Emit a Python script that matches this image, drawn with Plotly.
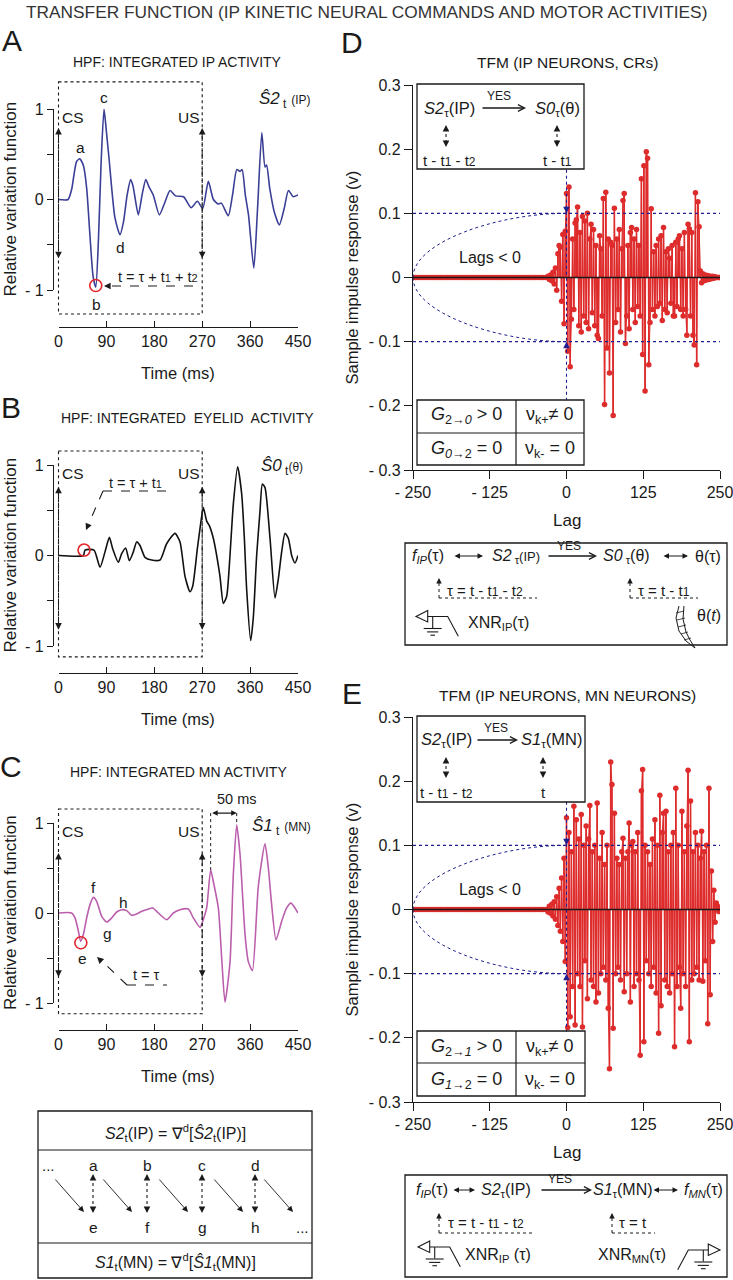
import plotly.graph_objects as go

W, H = 733, 1280
FONT = "Liberation Sans, Arial, sans-serif"
INK = "#1a1a1a"
IP_COLOR = "#3b3f96"
EYELID_COLOR = "#111111"
MN_COLOR = "#bb5fac"
STEM_RED = "#de2b2b"
GUIDE_BLUE = "#1f1f8f"
CIRCLE_RED = "#e3262b"

# ---------------- data ----------------
TIME_TICKS = [0, 90, 180, 270, 360, 450]
CS_TIME, US_TIME = 0, 270

A_T = [0, 18, 25, 29, 34, 40, 47, 53, 59, 65, 70, 75, 80, 85.5, 90, 95, 106, 115.5, 122, 129,
       135.5, 140, 150, 157, 164, 170, 178, 189.5, 200, 209.5, 220, 235, 249, 261, 271, 281.5, 291, 300, 306, 319,
       327, 335, 341, 345, 351, 357, 367, 374, 382, 388, 391, 397, 406, 415, 424, 432, 441, 450]
A_V = [0, 0, 0.12, 0.27, 0.42, 0.45, 0.37, 0.12, -0.39, -0.85, -0.97, -0.45, 0.4, 1.0, 0.75, 0.45, -0.2, -0.39, -0.25, 0.05,
       0.22, 0.15, -0.17, 0.05, 0.22, 0.14, 0.05, -0.17, -0.03, 0.1, 0.04, 0.03, -0.09, -0.02, -0.1, 0.2, 0.0, -0.05, -0.04, -0.18,
       0.05, 0.33, 0.31, 0.33, 0.05, -0.17, -0.76, -0.1, 0.74, 0.36, 0.38, 0.12, -0.15, -0.28, -0.1, 0.1, 0.03, 0.05]

B_T = [0, 46.7, 49.8, 66.7, 78, 87.4, 95.5, 101.8, 112.4, 118.7, 126.2, 133.1, 140.6, 146.9, 153.1, 162.5, 175, 190.7,
       203.2, 218.9, 228.3, 237.7, 247.1, 252.1, 260.9, 265.9, 272.1, 278.4, 283.4, 290.9, 297.2, 303.4, 309.7, 316,
       322.2, 328.5, 336.6, 344.2, 349.2, 353.6, 361.1, 366.1, 372.3, 378.6, 383, 388, 397.4, 406.8, 413, 419.3,
       425.6, 431.8, 438.1, 444.4, 450]
B_V = [0, 0, 0.06, 0.06, -0.13, 0.04, 0.2, 0.075, -0.075, 0.02, 0.083, -0.057, 0.04, 0.15, 0.11, -0.02, -0.05, -0.05,
       0.13, 0.245, 0.15, -0.23, -0.4, -0.34, 0.075, 0.3, 0.53, 0.38, 0.33, 0.19, 0, -0.23, -0.53, -0.45,
       0, 0.57, 0.98, 0.68, 0.19, -0.38, -0.94, -0.68, 0, 0.49, 0.79, 0.75, 0.19, -0.47, -0.26, 0.04,
       0.245, 0.19, 0, -0.083, 0]

C_T = [0, 24.7, 31, 37.3, 41.6, 46.7, 52.9, 59.2, 65.4, 71.7, 81.1, 90.5, 99.9, 109.3, 118.7, 128.1, 137.5, 146.9,
       156.3, 165.7, 177, 187.6, 203.2, 215.8, 228.3, 244, 253.4, 265.9, 270.9, 278.4, 285.9, 290.9, 300.3, 306.6,
       312.8, 322.2, 328.5, 334.8, 341.1, 350.5, 356.7, 364.3, 375.5, 388, 394.3, 400.5, 408.7, 419.3, 428.7, 436.8,
       444.4, 450]
C_V = [0, 0, -0.055, -0.2, -0.315, -0.24, -0.055, 0.093, 0.174, 0.13, -0.037, -0.1, -0.055, 0.011, 0.037, 0.026,
       -0.026, -0.011, 0.019, 0.037, 0.056, 0, -0.074, 0, 0.037, 0.044, -0.055, -0.16, -0.093, 0.056, 0.48, 0.35,
       0.056, -0.5, -0.99, -0.55, 0.43, 0.98, 0.65, -0.24, -0.54, -0.64, 0.3, 0.77, 0.5, 0.093, -0.3, -0.093,
       0.056, 0.11, 0.056, 0]

# marked points (red circles): b in A, onset in B, e in C
A_MARK = (70, -0.95)
B_MARK = (48, 0.06)
C_MARK = (42, -0.33)
C_PEAKS = [(285.9, 0.48), (334.8, 0.98)]  # the two MN peaks 50 ms apart

LAG_TICKS = [-250, -125, 0, 125, 250]
LAG_TICK_TEXT = ["- 250", "- 125", "0", "125", "250"]
IMP_TICKS = [0.3, 0.2, 0.1, 0, -0.1, -0.2, -0.3]
IMP_TICK_TEXT = ["0.3", "0.2", "0.1", "0", "- 0.1", "- 0.2", "- 0.3"]
SIG_LEVEL = 0.1

FAR_LAGS = list(range(-250, -31, 4))
NEAR_NEG_LAGS = list(range(-30, 0, 2))
POS_LAGS = list(range(0, 251, 2))

D_FAR = [0.0] * len(FAR_LAGS)
D_NEAR_NEG = [0.002, -0.003, 0.004, -0.005, 0.008, -0.01, 0.015, -0.02, 0.037, 0.05, 0.047, -0.037, 0.067, -0.072, 0.072]
D_POS = [
    0.131, -0.115, 0.141, -0.139, -0.065, 0.06, -0.05, 0.085, 0.09, 0.11,
    -0.075, 0.07, -0.085, 0.095, -0.06, 0.088, -0.07, 0.1, -0.08, 0.06,
    0.083, -0.055, 0.075, -0.075, 0.05, -0.09, -0.095, 0.065, 0.045, -0.06,
    0.123, -0.198, 0.133, -0.11, 0.06, -0.149, 0.055, 0.05, -0.215, 0.108,
    -0.07, 0.06, -0.05, 0.075, -0.085, 0.045, 0.12, 0.131, -0.103, -0.06,
    0.05, -0.08, 0.07, 0.078, -0.05, 0.06, -0.07, 0.075, -0.045, 0.05,
    -0.06, 0.154, -0.12, 0.174, -0.177, 0.196, 0.186, -0.136, -0.07, 0.107,
    -0.05, 0.04, -0.06, 0.05, -0.045, 0.06, -0.04, 0.065, -0.067, 0.078,
    -0.05, 0.04, -0.055, 0.045, 0.03, -0.04, 0.05, -0.06, -0.06, 0.055,
    -0.045, 0.06, 0.065, -0.05, 0.045, -0.06, 0.07, -0.05, -0.09, 0.083,
    0.076, -0.06, 0.07, -0.09, -0.105, 0.132, -0.136, 0.118, 0.079,
    0.01, -0.008, 0.006, -0.005, 0.004, -0.004, 0.003, -0.003, 0.002, -0.002, 0.002, -0.001, 0.001, 0.0, 0.0, 0.0, 0.0,
]

E_FAR = [0.0] * len(FAR_LAGS)
E_NEAR_NEG = [-0.004, 0.005, -0.006, 0.008, -0.01, 0.012, -0.015, 0.02, -0.025, 0.033, -0.034, 0.049, -0.05, 0.08, -0.081]
E_POS = [
    0.143, -0.184, 0.12, -0.167, 0.09, -0.12, 0.161, -0.18, 0.14, -0.1,
    0.11, -0.12, 0.148, -0.183, 0.1, -0.08, 0.13, -0.139, 0.11, 0.162,
    -0.11, 0.09, -0.12, 0.1, -0.144, 0.166, -0.13, 0.08, -0.1, 0.12,
    -0.09, 0.07, -0.11, 0.1, -0.154, -0.248, 0.23, 0.195, -0.185, 0.15,
    -0.1, 0.08, -0.09, 0.07, -0.11, 0.09, 0.111, -0.128, 0.08, -0.1,
    0.09, 0.135, -0.144, 0.1, 0.106, -0.12, 0.09, -0.1, 0.12, -0.11,
    -0.227, 0.185, 0.218, -0.206, 0.1, -0.08, 0.09, -0.1, 0.07, -0.12,
    0.11, -0.09, 0.14, -0.13, 0.1, -0.193, 0.178, -0.15, 0.12, 0.15,
    -0.11, 0.153, -0.12, 0.09, -0.13, 0.1, -0.1, 0.12, -0.214, 0.189,
    -0.12, 0.1, -0.09, -0.154, 0.153, -0.1, 0.09, -0.12, 0.13, 0.217,
    -0.206, 0.169, -0.11, 0.09, -0.1, 0.12, -0.09, 0.1, -0.11, 0.08,
    0.122, -0.112, 0.09, -0.08, 0.1, -0.178, 0.189, -0.133, 0.06, -0.05,
    0.03, -0.02, 0.01, 0.005, -0.003, 0.0,
]

# ---------------- geometry (pixels of the 733x1280 page) ----------------
T_PIX = (58.5, 298.0)
LEFT_PANELS = [
    dict(n="", top=109, bottom=290, xline=327, box=(1.3, -1.265), arrows=(0.79, -0.65)),
    dict(n="2", top=465, bottom=646, xline=673, box=(1.155, -1.12), arrows=(0.76, -0.82)),
    dict(n="3", top=823, bottom=1003, xline=1030, box=(1.155, -1.12), arrows=(0.667, -0.71)),
]
LAG_PIX = (413, 720)
RIGHT_PANELS = [dict(n="4", top=85, bottom=470), dict(n="5", top=717, bottom=1102)]

ann = []
shp = []


def xp(x):
    return x / W


def yp(y):
    return 1 - y / H


def tx(t):
    return T_PIX[0] + t / 450 * (T_PIX[1] - T_PIX[0])


def vy(p, v):
    return p["bottom"] + (v + 1) / 2 * (p["top"] - p["bottom"])


def sm(s, size=11):
    return f"<span style='font-size:{size}px'>{s}</span>"


def text(x, y, s, size=15, color=INK, angle=0, xanchor="center"):
    ann.append(dict(x=xp(x), y=yp(y), xref="paper", yref="paper", text=s, showarrow=False,
                    font=dict(family=FONT, size=size, color=color), textangle=angle,
                    xanchor=xanchor, yanchor="middle"))


def line(x0, y0, x1, y1, dash="solid", width=1.1, color=INK):
    shp.append(dict(type="line", xref="paper", yref="paper", x0=xp(x0), y0=yp(y0), x1=xp(x1), y1=yp(y1),
                    line=dict(color=color, width=width, dash=dash)))


def rect(x0, y0, x1, y1, dash="solid", width=1.3, color=INK):
    shp.append(dict(type="rect", xref="paper", yref="paper", x0=xp(x0), y0=yp(y0), x1=xp(x1), y1=yp(y1),
                    line=dict(color=color, width=width, dash=dash), fillcolor="rgba(0,0,0,0)"))


def path(points, closed=False, width=1.1, color=INK):
    d = "M " + " L ".join(f"{xp(x):.5f},{yp(y):.5f}" for x, y in points)
    if closed:
        d += " Z"
    shp.append(dict(type="path", xref="paper", yref="paper", path=d,
                    line=dict(color=color, width=width), fillcolor="rgba(0,0,0,0)"))


def head(x, y, dx, dy, length=7, color=INK, size=1.2, width=1.1):
    n = (dx * dx + dy * dy) ** 0.5
    ann.append(dict(x=xp(x), y=yp(y), xref="paper", yref="paper", showarrow=True, text="",
                    ax=-dx / n * length, ay=-dy / n * length, axref="pixel", ayref="pixel",
                    arrowhead=2, arrowsize=size, arrowwidth=width, arrowcolor=color, standoff=0))


def arrow(x0, y0, x1, y1, both=False, style=2, width=1.1, size=1.2, color=INK):
    d = dict(x=xp(x1), y=yp(y1), xref="paper", yref="paper", showarrow=True, text="",
             ax=x0 - x1, ay=y0 - y1, axref="pixel", ayref="pixel",
             arrowhead=style, arrowsize=size, arrowwidth=width, arrowcolor=color, standoff=0)
    if both:
        d.update(arrowside="end+start", startarrowhead=style, startarrowsize=size, startstandoff=0)
    ann.append(d)


def dotted_double(x, y0, y1):
    line(x, y0 + 3, x, y1 - 3, dash="dot", width=1.1)
    head(x, y0, 0, -1, length=6)
    head(x, y1, 0, 1, length=6)


def bracket(x, y, x_end, tip):
    line(x, y, x_end, y, dash="dot", width=1.0)
    line(x, y, x, tip + 4, dash="dot", width=1.0)
    head(x, tip, 0, -1, length=5, size=1.0)


def electrode(ax, ay, mirror=False):
    s = -1 if mirror else 1

    def P(dx, dy):
        return (ax + s * dx, ay + dy)
    path([P(11.7, -6), P(0, 0), P(11.7, 5.4)], closed=True)
    path([P(11.7, 0), P(31.7, 0), P(42.3, 19.7)])
    line(*P(16.7, 0), *P(16.7, 11.4))
    for half, dy in ((9, 12), (5.6, 15.4), (2.3, 18.7)):
        line(*P(16.7 - half, dy), *P(16.7 + half, dy))


def eyelid():
    path([(679, 606), (676, 618), (679, 631), (686, 641), (695, 648)], width=1.0)
    path([(684, 606), (683, 619), (686, 632), (690, 640), (695, 648)], width=1.0)
    for a, b in (((676, 613), (684, 611)), ((677, 620), (685, 618)), ((678, 627), (686, 625)),
                 ((681, 634), (688, 632)), ((684, 640), (691, 638))):
        line(*a, *b, width=0.8)


fig = go.Figure()

# ---------------- left panels: HPF curves ----------------
curves = [(A_T, A_V, IP_COLOR, A_MARK), (B_T, B_V, EYELID_COLOR, B_MARK), (C_T, C_V, MN_COLOR, C_MARK)]
axes = {}
for p, (t, v, color, mark) in zip(LEFT_PANELS, curves):
    n = p["n"]
    fig.add_trace(go.Scatter(x=t, y=v, mode="lines", xaxis="x" + n, yaxis="y" + n, hoverinfo="skip",
                             line=dict(color=color, width=1.6, shape="spline", smoothing=0.6)))
    fig.add_trace(go.Scatter(x=[mark[0]], y=[mark[1]], mode="markers", xaxis="x" + n, yaxis="y" + n,
                             cliponaxis=False, hoverinfo="skip",
                             marker=dict(symbol="circle-open", size=12, color=CIRCLE_RED, line=dict(width=1.6))))
    axes["xaxis" + n] = dict(domain=[xp(T_PIX[0]), xp(T_PIX[1])], range=[0, 450], anchor="free",
                             position=yp(p["xline"]), showline=True, linecolor=INK, linewidth=1.3,
                             ticks="inside", ticklen=6, tickwidth=1.3, tickcolor=INK, tickvals=TIME_TICKS,
                             tickfont=dict(size=16, family=FONT, color=INK), showgrid=False, zeroline=False,
                             automargin=False)
    axes["yaxis" + n] = dict(domain=[yp(p["bottom"]), yp(p["top"])], range=[-1, 1], anchor="free",
                             position=xp(53), showline=True, linecolor=INK, linewidth=1.3,
                             ticks="outside", ticklen=6, tickwidth=1.3, tickcolor=INK,
                             tickvals=[-1, -0.5, 0, 0.5, 1], ticktext=["- 1", "", "0", "", "1"],
                             tickfont=dict(size=16, family=FONT, color=INK), showgrid=False, zeroline=False,
                             automargin=False)

    top_v, bot_v = p["box"]
    x0, x1 = tx(CS_TIME), tx(US_TIME)
    rect(x0, vy(p, top_v), x1, vy(p, bot_v), dash="dot", width=1.1)
    up_v, dn_v = p["arrows"]
    for x in (x0, x1):
        line(x, vy(p, up_v) + 4, x, vy(p, dn_v) - 4, dash="dashdot", width=1.0)
        head(x, vy(p, up_v), 0, -1)
        head(x, vy(p, dn_v), 0, 1)
    text(x0 + 14, vy(p, 0.91), "CS", 15.5)
    text(x1 - 13, vy(p, 0.91), "US", 15.5)
    text(10, (p["top"] + p["bottom"]) / 2, "Relative variation function", 17, angle=-90)
    text(178, p["xline"] + 46, "Time (ms)", 16.5)

PA, PB, PC = LEFT_PANELS

# panel A extras
text(80, 148, "a", 15.5)
text(96, 304, "b", 15.5)
text(104, 98, "c", 15.5)
text(120, 248, "d", 15.5)
text(284, 100, "<i>Ŝ2</i><sub> t</sub> " + sm("(IP)", 12), 17)
text(158, 277, "t = τ + t" + sm("1") + " + t" + sm("2"), 14.5)
line(112, 286, 198, 286, dash="dash", width=1.1)
head(104, 286, -1, 0)

# panel B extras
text(282, 467, "<i>Ŝ0</i><sub> t</sub>" + sm("(θ)", 12), 17)
text(135, 483, "t = τ + t" + sm("1"), 14.5)
line(103, 491, 167, 491, dash="dash", width=1.1)
line(103, 491, 89, 523, dash="dash", width=1.1)
head(86, 530, -17, 39)

# panel C extras
text(93, 887, "f", 15.5)
text(123, 902, "h", 15.5)
text(107, 933, "g", 15.5)
text(82, 958, "e", 15.5)
text(281, 827, "<i>Ŝ1</i><sub> t</sub> " + sm("(MN)", 12), 17)
text(146, 975, "t = τ", 14.5)
line(127, 985, 167, 985, dash="dash", width=1.1)
line(127, 985, 103, 962, dash="dash", width=1.1)
head(97, 957, -30, -28)
y50 = vy(PC, 1.11)
for pt, pv in C_PEAKS:
    line(tx(pt), y50, tx(pt), vy(PC, pv), dash="dot", width=1.0)
arrow(tx(C_PEAKS[0][0]), y50, tx(C_PEAKS[1][0]), y50, both=True, size=1.0)
text(237, 799, "50 ms", 14.5)

# ---------------- right panels: stem plots ----------------
stem_sets = [(D_FAR, D_NEAR_NEG, D_POS), (E_FAR, E_NEAR_NEG, E_POS)]
for p, (far, near, pos) in zip(RIGHT_PANELS, stem_sets):
    n = p["n"]
    lags = FAR_LAGS + NEAR_NEG_LAGS + POS_LAGS
    vals = far + near + pos
    sx, sy = [], []
    for l, v in zip(lags, vals):
        sx += [l, l, None]
        sy += [0, v, None]
    fig.add_trace(go.Scatter(x=sx, y=sy, mode="lines", xaxis="x" + n, yaxis="y" + n, hoverinfo="skip",
                             line=dict(color=STEM_RED, width=1.6)))
    fig.add_trace(go.Scatter(x=lags, y=vals, mode="lines+markers", xaxis="x" + n, yaxis="y" + n,
                             hoverinfo="skip", line=dict(color=STEM_RED, width=1.0),
                             marker=dict(color=STEM_RED, size=5.5)))
    axes["xaxis" + n] = dict(domain=[xp(LAG_PIX[0]), xp(LAG_PIX[1])], range=[-250, 250], anchor="y" + n,
                             showline=True, linecolor=INK, linewidth=1.3, ticks="outside", ticklen=8,
                             tickwidth=1.3, tickcolor=INK, tickvals=LAG_TICKS, ticktext=LAG_TICK_TEXT,
                             tickfont=dict(size=16, family=FONT, color=INK), showgrid=False, zeroline=False,
                             automargin=False, ticklabeloverflow="allow")
    axes["yaxis" + n] = dict(domain=[yp(p["bottom"]), yp(p["top"])], range=[-0.3, 0.3], anchor="x" + n,
                             showline=True, linecolor=INK, linewidth=1.3, ticks="outside", ticklen=8,
                             tickwidth=1.3, tickcolor=INK, tickvals=IMP_TICKS, ticktext=IMP_TICK_TEXT,
                             tickfont=dict(size=16, family=FONT, color=INK), showgrid=False, zeroline=False,
                             automargin=False)
    xr, yr = "x" + n, "y" + n
    k = 0.5523
    for s in (SIG_LEVEL, -SIG_LEVEL):
        shp.append(dict(type="line", xref=xr, yref=yr, x0=LAG_TICKS[0], x1=LAG_TICKS[-1], y0=s, y1=s,
                        line=dict(color=GUIDE_BLUE, width=1.1, dash="dot")))
        shp.append(dict(type="path", xref=xr, yref=yr,
                        path=f"M {LAG_TICKS[0]},0 C {LAG_TICKS[0]},{k * s} {LAG_TICKS[0] * (1 - k)},{s} 0,{s}",
                        line=dict(color=GUIDE_BLUE, width=1.0, dash="dot")))
    shp.append(dict(type="line", xref=xr, yref=yr, x0=LAG_TICKS[0], x1=LAG_TICKS[-1], y0=0, y1=0,
                    line=dict(color=INK, width=1.5)))
    shp.append(dict(type="line", xref=xr, yref=yr, x0=0, x1=0, y0=0.168, y1=-0.19,
                    line=dict(color=GUIDE_BLUE, width=1.1, dash="dot")))
    for s, ay in ((SIG_LEVEL, -7), (-SIG_LEVEL, 7)):
        ann.append(dict(x=0, y=s, xref=xr, yref=yr, showarrow=True, text="", ax=0, ay=ay,
                        arrowhead=2, arrowsize=1.2, arrowwidth=1.1, arrowcolor=GUIDE_BLUE, standoff=0))
    text(351, (p["top"] + p["bottom"]) / 2, "Sample impulse response (v)", 16.5, angle=-90)
    text(567, p["bottom"] + 50, "Lag", 17)
    text(490, p["top"] + 172, "Lags &lt; 0", 16)

# D inset + table
rect(417, 84, 584, 169)
text(449, 109, "<i>S2</i><sub>τ</sub>(IP)", 16.5)
arrow(481, 108, 526, 108, style=5, width=1.3, size=1.0)
text(499, 96, "YES", 12)
text(557, 109, "<i>S0</i><sub>τ</sub>(θ)", 16.5)
dotted_double(446, 125, 147)
dotted_double(557, 125, 147)
text(449, 160, "t - t" + sm("1", 12) + " - t" + sm("2", 12), 15)
text(557, 160, "t - t" + sm("1", 12), 15)

rect(417, 400, 584, 465)
line(516, 400, 516, 465, width=1.2)
line(417, 433, 584, 433, width=1.2)
text(466, 416, "<i>G</i><sub>2→<i>0</i></sub> &gt; 0", 18)
text(550, 416, "ν<sub>k+</sub>≠ 0", 18)
text(466, 449, "<i>G</i><sub><i>0</i>→2</sub> = 0", 18)
text(550, 449, "ν<sub>k-</sub> = 0", 18)

# E inset + table
rect(417, 716, 585, 802)
text(447, 740, "<i>S2</i><sub>τ</sub>(IP)", 16.5)
arrow(476, 740, 518, 740, style=5, width=1.3, size=1.0)
text(496, 728, "YES", 12)
text(551, 740, "<i>S1</i><sub>τ</sub>(MN)", 16.5)
dotted_double(446, 757, 778)
dotted_double(543, 757, 778)
text(447, 792, "t - t" + sm("1", 12) + " - t" + sm("2", 12), 15)
text(543, 792, "t", 15)

rect(417, 1031, 585, 1096)
line(516, 1031, 516, 1096, width=1.2)
line(417, 1063, 585, 1063, width=1.2)
text(466, 1047, "<i>G</i><sub>2→<i>1</i></sub> &gt; 0", 18)
text(550, 1047, "ν<sub>k+</sub>≠ 0", 18)
text(466, 1080, "<i>G</i><sub><i>1</i>→2</sub> = 0", 18)
text(550, 1080, "ν<sub>k-</sub> = 0", 18)

# D bottom diagram
rect(405, 543, 727, 645)
text(428, 556, "<i>f</i><sub><i>IP</i></sub>(τ)", 16)
arrow(453, 556, 483, 556, both=True, size=1.0)
text(516, 556, "<i>S2</i><sub> τ</sub>" + sm("(IP)", 13), 16)
arrow(547, 556, 597, 556, style=5, width=1.3, size=1.0)
text(569, 546, "YES", 12)
text(626, 556, "<i>S0</i><sub> τ</sub>(θ)", 16)
arrow(662, 556, 688, 556, both=True, size=1.0)
text(708, 556, "θ(τ)", 16)
text(485, 590, "τ = t - t" + sm("1", 12) + " - t" + sm("2", 12), 15)
bracket(439, 598, 537, 578)
text(664, 590, "τ = t - t" + sm("1", 12), 15)
bracket(630, 598, 698, 578)
electrode(416, 616.5)
text(498, 623, "XNR<sub>IP</sub>(τ)", 16)
eyelid()
text(709, 615, "θ(<i>t</i>)", 16)

# E bottom diagram
rect(405, 1175, 727, 1277)
text(432, 1190, "<i>f</i><sub><i>IP</i></sub>(τ)", 16)
arrow(452, 1190, 475, 1190, both=True, size=1.0)
text(506, 1190, "<i>S2</i><sub>τ</sub>(IP)", 16)
arrow(540, 1190, 592, 1190, style=5, width=1.3, size=1.0)
text(560, 1179, "YES", 12)
text(623, 1190, "<i>S1</i><sub>τ</sub>(MN)", 16)
arrow(652, 1190, 678, 1190, both=True, size=1.0)
text(703, 1190, "<i>f</i><sub><i>MN</i></sub>(τ)", 16)
text(486, 1222, "τ = t - t" + sm("1", 12) + " - t" + sm("2", 12), 15)
bracket(439, 1233, 535, 1213)
text(633, 1222, "τ = t", 15)
bracket(612, 1233, 655, 1213)
electrode(418, 1247)
text(498, 1255, "XNR<sub>IP</sub> (τ)", 16)
text(632, 1255, "XNR<sub>MN</sub>(τ)", 16)
electrode(720, 1250, mirror=True)

# left bottom schema
rect(38, 1111, 312, 1278)
line(38, 1150, 312, 1150, width=1.2)
line(38, 1243, 312, 1243, width=1.2)
text(175, 1133, "<i>S2</i><sub>t</sub>(IP) = ∇<sup>d</sup>[<i>Ŝ2</i><sub>t</sub>(IP)]", 16)
text(175, 1262, "<i>S1</i><sub>t</sub>(MN) = ∇<sup>d</sup>[<i>Ŝ1</i><sub>t</sub>(MN)]", 16)
text(48, 1165, "...", 15)
text(302, 1227, "...", 15)
for x, top, bottom in ((93, "a", "e"), (147, "b", "f"), (202, "c", "g"), (255, "d", "h")):
    text(x, 1165, top, 15.5)
    text(x, 1227, bottom, 15.5)
    dotted_double(x, 1174, 1213)
for x0 in (54, 102, 158, 213, 263):
    arrow(x0, 1178, x0 + 30, 1212, width=0.9, size=1.3)

# header and panel letters
text(366, 12, "TRANSFER FUNCTION (IP KINETIC NEURAL COMMANDS AND MOTOR ACTIVITIES)", 17.3, "#333333")
text(177, 62, "HPF: INTEGRATED IP ACTIVITY", 14)
text(187, 418, "HPF: INTEGRATED&nbsp; EYELID&nbsp; ACTIVITY", 14)
text(178, 772, "HPF: INTEGRATED MN ACTIVITY", 14)
text(567, 62, "TFM (IP NEURONS, CRs)", 15.5)
text(567, 695, "TFM (IP NEURONS, MN NEURONS)", 15.5)
for letter, x, y in (("A", 12, 41), ("B", 11, 407), ("C", 11, 766), ("D", 352, 43), ("E", 352, 693)):
    text(x, y, letter, 30)

fig.update_layout(width=W, height=H, margin=dict(l=0, r=0, t=0, b=0, autoexpand=False), showlegend=False,
                  paper_bgcolor="white", plot_bgcolor="white",
                  font=dict(family=FONT, color=INK), annotations=ann, shapes=shp, **axes)

# the page's default body margin would push the fixed-size figure off the window
fig.write_html("out.html", config={"displayModeBar": False},
               post_script="document.body.style.margin='0px';")
